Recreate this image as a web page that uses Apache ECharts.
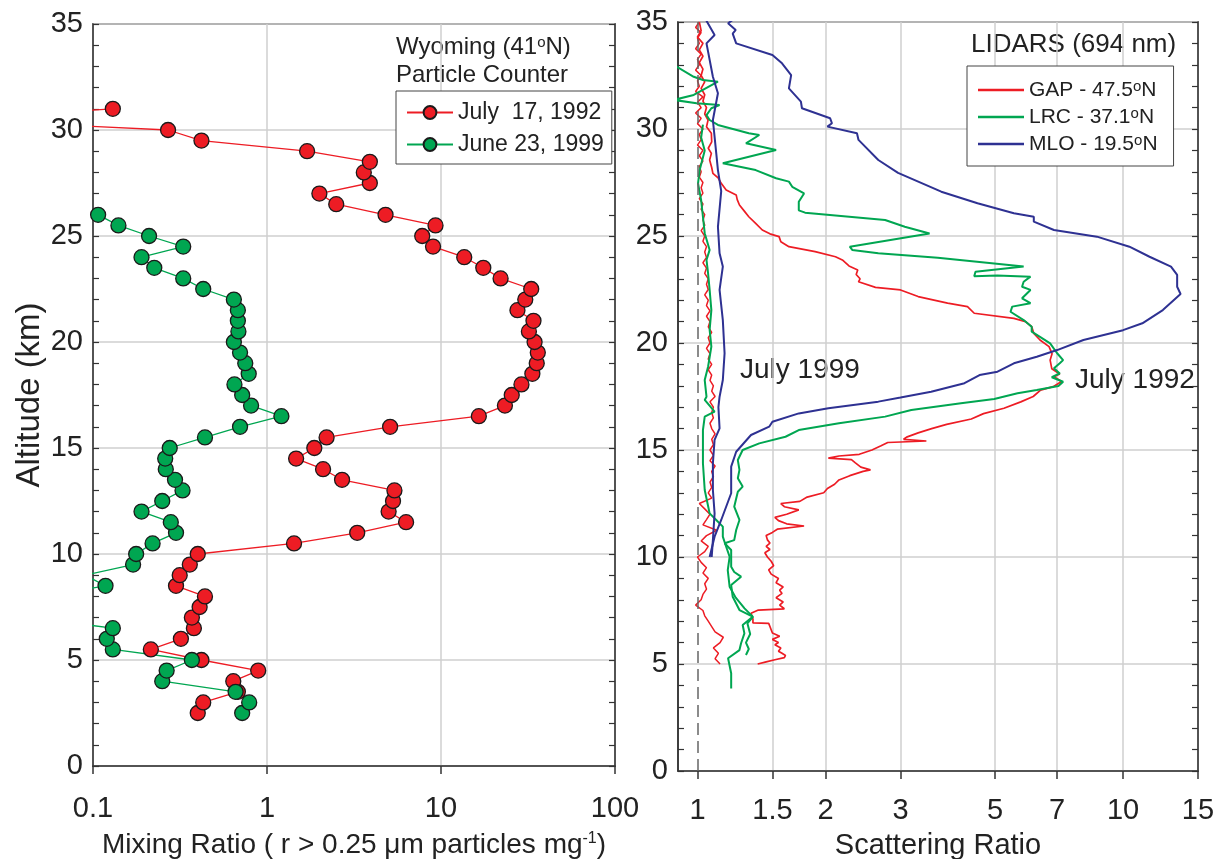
<!DOCTYPE html>
<html><head><meta charset="utf-8">
<script src="https://cdn.jsdelivr.net/npm/echarts@6/dist/echarts.min.js"></script>
<style>html,body{margin:0;padding:0;background:#fff}#c{width:1219px;height:859px}</style>
</head><body><div id="c"></div>
<script>
// ---------- Left panel: Wyoming particle counter ----------
const wyoAlt1992 = [2.5,3,3.5,4,4.5,5,5.5,6,6.5,7,7.5,8,8.5,9,9.5,10,10.5,11,11.5,12,12.5,13,13.5,14,14.5,15,15.5,16,16.5,17,17.5,18,18.5,19,19.5,20,20.5,21,21.5,22,22.5,23,23.5,24,24.5,25,25.5,26,26.5,27,27.5,28,28.5,29,29.5,30,30.5,31];
const wyo1992 = [0.40,0.43,0.68,0.64,0.89,0.42,0.215,0.32,0.38,0.37,0.41,0.44,0.30,0.315,0.36,0.40,1.43,3.3,6.3,5.0,5.3,5.4,2.7,2.1,1.47,1.87,2.2,5.1,16.5,23.3,25.5,29,33.5,35.5,36,34.5,32,34,27.5,30.5,33,22,17.5,13.6,9.0,7.8,9.3,4.8,2.5,2.0,3.9,3.6,3.9,1.7,0.42,0.27,0.015,0.13];
const wyoAlt1999 = [2.5,3,3.5,4,4.5,5,5.5,6,6.5,7,7.5,8,8.5,9,9.5,10,10.5,11,11.5,12,12.5,13,13.5,14,14.5,15,15.5,16,16.5,17,17.5,18,18.5,19,19.5,20,20.5,21,21.5,22,22.5,23,23.5,24,24.5,25,25.5,26];
const wyo1999 = [0.72,0.79,0.66,0.25,0.265,0.37,0.13,0.12,0.13,0.044,0.05,0.052,0.118,0.09,0.17,0.177,0.22,0.30,0.28,0.19,0.25,0.327,0.296,0.262,0.26,0.276,0.44,0.70,1.21,0.81,0.72,0.65,0.785,0.75,0.70,0.645,0.685,0.68,0.68,0.645,0.43,0.33,0.225,0.19,0.33,0.21,0.14,0.107];
const leftXTicks = [0.1, 1, 10, 100];

// ---------- Right panel: lidars, [scattering ratio, altitude km] ----------
const gap1992 = [[1.385,5.0],[1.45,5.1],[1.52,5.2],[1.60,5.3],[1.61,5.4],[1.58,5.5],[1.55,5.6],[1.57,5.75],[1.52,5.9],[1.55,6.0],[1.50,6.15],[1.56,6.3],[1.50,6.45],[1.49,6.6],[1.48,6.75],[1.47,6.9],[1.35,6.92],[1.35,7.1],[1.336,7.37],[1.39,7.52],[1.60,7.58],[1.56,7.75],[1.59,7.9],[1.53,8.1],[1.58,8.3],[1.56,8.45],[1.59,8.6],[1.53,8.8],[1.55,9.0],[1.49,9.2],[1.47,9.4],[1.51,9.6],[1.49,9.8],[1.46,10.0],[1.44,10.2],[1.48,10.35],[1.45,10.5],[1.48,10.65],[1.46,10.8],[1.45,11.0],[1.50,11.15],[1.54,11.3],[1.78,11.45],[1.62,11.55],[1.55,11.7],[1.52,11.85],[1.62,12.0],[1.73,12.2],[1.60,12.35],[1.57,12.5],[1.74,12.6],[1.81,12.8],[1.98,13.0],[2.02,13.2],[2.10,13.4],[2.15,13.6],[2.28,13.8],[2.45,14.0],[2.55,14.07],[2.42,14.2],[2.35,14.4],[2.30,14.55],[2.03,14.62],[2.15,14.72],[2.40,14.8],[2.57,15.0],[2.70,15.2],[2.80,15.35],[3.45,15.42],[3.05,15.5],[3.10,15.6],[3.30,15.8],[3.55,16.0],[3.85,16.2],[4.40,16.45],[4.70,16.7],[5.25,16.95],[5.75,17.25],[6.15,17.5],[6.40,17.8],[6.85,17.96],[7.17,18.2],[6.88,18.43],[7.10,18.55],[6.80,18.8],[6.74,19.2],[6.81,19.5],[6.70,19.83],[6.38,20.14],[6.17,20.45],[6.10,20.76],[5.90,21.0],[5.54,21.15],[4.47,21.39],[4.31,21.7],[3.87,21.86],[3.30,22.17],[3.00,22.48],[2.62,22.6],[2.39,22.86],[2.41,23.0],[2.36,23.2],[2.38,23.41],[2.27,23.6],[2.19,23.88],[2.11,24.03],[1.89,24.27],[1.64,24.5],[1.57,24.73],[1.555,24.97],[1.48,25.1],[1.42,25.28],[1.37,25.59],[1.32,25.9],[1.29,26.15],[1.255,26.45],[1.24,26.7],[1.233,26.92],[1.168,27.15],[1.137,27.46],[1.12,27.7],[1.087,27.93],[1.08,28.2],[1.068,28.55],[1.078,28.86],[1.06,29.1],[1.08,29.4],[1.078,29.8],[1.05,30.1],[1.059,30.42],[1.04,30.7],[1.05,31.0],[1.03,31.3],[1.04,31.6],[1.02,31.9],[1.04,32.2],[1.02,32.5],[1.03,32.8],[1.01,33.1],[1.03,33.4],[1.01,33.7],[1.03,34.0],[1.00,34.3],[1.02,34.6],[1.01,35.0]];
const gap1999 = [[1.13,5.0],[1.10,5.25],[1.12,5.5],[1.09,5.75],[1.13,6.0],[1.15,6.25],[1.10,6.5],[1.08,6.75],[1.06,7.0],[1.04,7.25],[1.03,7.5],[0.99,7.75],[1.02,8.0],[1.03,8.25],[1.05,8.5],[1.04,8.75],[1.06,9.0],[1.03,9.25],[1.05,9.5],[1.02,9.75],[1.00,10.0],[1.04,10.25],[1.06,10.5],[1.02,10.75],[1.05,11.0],[1.11,11.25],[1.03,11.5],[1.05,11.75],[1.07,12.0],[1.04,12.25],[1.01,12.5],[1.08,12.75],[1.06,13.0],[1.08,13.25],[1.07,13.5],[1.09,13.75],[1.08,14.0],[1.10,14.25],[1.07,14.5],[1.09,14.75],[1.07,15.0],[1.09,15.25],[1.08,15.5],[1.10,15.75],[1.08,16.0],[1.07,16.25],[1.09,16.5],[1.08,16.75],[1.09,17.0],[1.07,17.25],[1.10,17.5],[1.08,17.75],[1.09,18.0],[1.07,18.25],[1.08,18.5],[1.06,18.75],[1.08,19.0],[1.06,19.25],[1.07,19.5],[1.05,19.75],[1.07,20.0],[1.06,20.25],[1.08,20.5],[1.06,20.75],[1.07,21.0],[1.05,21.25],[1.07,21.5],[1.05,21.75],[1.06,22.0],[1.04,22.25],[1.06,22.5],[1.05,22.75],[1.06,23.0],[1.04,23.25],[1.05,23.5],[1.03,23.75],[1.05,24.0],[1.04,24.25],[1.05,24.5],[1.03,24.75],[1.04,25.0],[1.02,25.25],[1.04,25.5],[1.03,25.75],[1.04,26.0],[1.02,26.25],[1.03,26.5],[1.01,26.75],[1.03,27.0],[1.02,27.25],[1.03,27.5],[1.01,27.75],[1.02,28.0],[1.01,28.25],[1.03,28.5],[1.01,28.75],[1.03,29.0],[1.00,29.25],[1.02,29.5],[1.01,29.75],[1.03,30.0],[1.00,30.25],[1.02,30.5],[0.99,30.75],[1.02,31.0],[1.00,31.25],[1.03,31.5],[0.99,31.75],[1.01,32.0],[1.00,32.25],[1.02,32.5],[0.99,32.75],[1.01,33.0],[1.00,33.25],[1.02,33.5],[0.99,33.75],[1.01,34.0],[1.00,34.25],[1.02,34.5],[0.99,34.75],[1.01,35.0]];
const lrc1992 = [[1.2,3.86],[1.2,4.57],[1.18,5.27],[1.255,5.65],[1.266,5.97],[1.289,6.43],[1.277,6.82],[1.348,7.21],[1.255,7.52],[1.21,8.14],[1.2,8.69],[1.266,9.08],[1.22,9.3],[1.2,9.55],[1.2,10.33],[1.158,10.64],[1.22,10.79],[1.233,11.26],[1.255,11.73],[1.22,12.35],[1.244,13.05],[1.277,13.29],[1.244,13.68],[1.255,14.07],[1.244,14.53],[1.277,15.0],[1.397,15.31],[1.61,15.62],[1.73,15.93],[2.15,16.25],[2.76,16.56],[3.18,16.87],[4.16,17.18],[4.98,17.38],[5.65,17.65],[6.27,17.8],[7.05,17.99],[7.23,18.19],[6.8,18.4],[7.1,18.58],[6.88,18.82],[7.1,19.05],[7.23,19.2],[7.0,19.52],[6.74,19.98],[6.38,20.29],[6.1,20.53],[6.1,20.76],[5.84,21.07],[5.44,21.46],[5.49,21.7],[6.06,21.86],[5.79,22.09],[6.06,22.48],[5.79,22.63],[5.84,22.86],[6.06,23.1],[5.06,23.15],[4.47,23.12],[4.5,23.33],[5.84,23.57],[3.67,23.98],[2.66,24.19],[2.31,24.35],[2.28,24.5],[3.51,25.12],[3.07,25.43],[2.76,25.75],[1.79,26.09],[1.73,26.2],[1.73,26.6],[1.78,26.99],[1.67,27.3],[1.64,27.54],[1.53,27.7],[1.37,28.08],[1.147,28.4],[1.53,29.02],[1.3,29.33],[1.397,29.72],[1.32,29.8],[1.117,30.19],[1.068,30.42],[1.05,30.65],[1.078,30.97],[1.127,31.12],[0.995,31.2],[0.88,31.36],[0.98,31.59],[1.117,32.21],[1.03,32.29],[0.98,32.44],[0.88,32.99]];
const lrc1999 = [[1.30,5.42],[1.32,5.7],[1.30,6.0],[1.33,6.4],[1.31,6.9],[1.35,7.2],[1.29,7.6],[1.23,8.1],[1.19,8.61],[1.178,9.39],[1.19,10.01],[1.168,10.48],[1.147,10.95],[1.147,11.42],[1.107,11.73],[1.068,12.04],[1.04,13.13],[1.03,14.38],[1.03,15.93],[1.04,16.56],[1.097,16.79],[1.04,17.34],[1.05,17.49],[1.04,18.27],[1.059,18.89],[1.078,19.83],[1.068,20.61],[1.078,21.54],[1.068,22.48],[1.059,23.26],[1.05,23.88],[1.068,24.35],[1.04,25.13],[1.03,25.9],[1.02,26.68],[1.003,27.46],[1.012,28.08],[1.04,29.0],[1.02,29.6],[1.03,30.2]];
const mlo1992 = [[1.068,10.0],[1.097,10.95],[1.137,11.73],[1.2,12.98],[1.2,14.22],[1.233,14.92],[1.336,15.7],[1.474,16.09],[1.5,16.32],[1.73,16.71],[2.03,16.95],[2.66,17.26],[3.0,17.45],[3.54,17.72],[4.24,18.12],[4.6,18.5],[5.07,18.66],[5.54,19.05],[6.27,19.36],[7.0,19.67],[8.07,20.14],[10.0,20.6],[11.1,20.92],[12.4,21.54],[13.65,22.29],[13.4,22.63],[13.4,23.18],[12.96,23.57],[11.54,24.03],[10.35,24.5],[8.68,24.97],[6.88,25.28],[6.17,25.67],[6.17,25.9],[5.54,26.06],[4.55,26.53],[3.74,27.07],[2.96,27.95],[2.66,28.55],[2.39,29.49],[2.37,29.8],[2.02,30.11],[2.07,30.27],[2.05,30.5],[1.76,30.97],[1.75,31.28],[1.64,31.9],[1.66,32.52],[1.58,33.07],[1.5,33.46],[1.233,34.0],[1.21,34.46],[1.23,34.63],[1.18,34.94],[1.23,35.2]];
const mlo1999 = [[1.08,10.0],[1.087,10.79],[1.097,12.04],[1.087,13.13],[1.087,14.38],[1.097,15.47],[1.127,16.01],[1.12,17.0],[1.127,17.49],[1.147,18.27],[1.158,19.52],[1.147,21.07],[1.127,22.48],[1.147,23.57],[1.127,24.19],[1.117,25.43],[1.137,27.1],[1.117,28.08],[1.107,28.86],[1.087,30.42],[1.117,31.67],[1.087,32.44],[1.05,34.0],[1.097,34.39],[1.04,35.2]];
const rightXTicks = [1, 1.5, 2, 3, 5, 7, 10, 15];

const FONT = '"Liberation Sans", Arial, Helvetica, sans-serif';
const RED = '#ed1c24', GREEN = '#00a651', BLUE = '#2e3192';
const AX = '#333', GRID = '#cfcfcf';

const zip = (alts, vals) => vals.map((v, i) => [v, alts[i]]);

function yAxisCfg(gridIndex, pos, showLabel, nameOpt) {
  const c = {
    type: 'value', gridIndex, position: pos, min: 0, max: 35, interval: 5,
    axisLine: {show: true, lineStyle: {color: AX, width: 1.5}},
    axisTick: {show: true, inside: true, length: 6, lineStyle: {color: AX, width: 1.2}},
    minorTick: {show: true, splitNumber: 5, length: 6, lineStyle: {color: AX, width: 1.2}},
    axisLabel: {show: showLabel, fontSize: 29, color: '#222', fontFamily: FONT, margin: 10},
    splitLine: {show: showLabel, lineStyle: {color: GRID, width: 1.5}}
  };
  return Object.assign(c, nameOpt || {});
}

const lidarLine = (name, data, color, w) => ({
  type: 'line', name, data, xAxisIndex: 1, yAxisIndex: 2, symbol: 'none',
  lineStyle: {color, width: w}, itemStyle: {color}, clip: true, silent: true, animation: false
});

const option = {
  animation: false,
  grid: [
    {left: 93, top: 24, width: 522, height: 742, show: true, borderColor: AX, borderWidth: 1.5,
     containLabel: false, outerBoundsMode: 'none'},
    {left: 678, top: 22, width: 520, height: 749, show: true, borderColor: AX, borderWidth: 1.5,
     containLabel: false, outerBoundsMode: 'none'}
  ],
  xAxis: [
    {type: 'log', gridIndex: 0, min: 0.1, max: 100, logBase: 10,
     axisLine: {show: true, lineStyle: {color: AX, width: 1.5}},
     axisTick: {show: true, length: 8, lineStyle: {color: AX, width: 1.5}},
     axisLabel: {fontSize: 29, color: '#222', fontFamily: FONT, margin: 28, customValues: leftXTicks,
       formatter: v => String(Math.round(v * 10) / 10)},
     splitLine: {show: true, lineStyle: {color: GRID, width: 1.5}},
     name: 'Mixing Ratio ( r > 0.25 {g|μ}m particles mg{s|-1})', nameLocation: 'middle', nameGap: 65,
     nameTextStyle: {fontSize: 28, color: '#222', fontFamily: FONT,
       rich: {g: {fontSize: 28, fontFamily: FONT, color: '#222'}, s: {fontSize: 16, fontFamily: FONT, color: '#222', verticalAlign: 'top', lineHeight: 14}}}},
    {type: 'log', gridIndex: 1, min: 0.9, max: 15, logBase: 10,
     axisLine: {show: true, lineStyle: {color: AX, width: 1.5}},
     axisTick: {show: true, length: 8, customValues: rightXTicks, lineStyle: {color: AX, width: 1.5}},
     axisLabel: {fontSize: 29, color: '#222', fontFamily: FONT, margin: 25, customValues: rightXTicks,
       formatter: v => String(Math.round(v * 10) / 10)},
     splitLine: {show: true, lineStyle: {color: ['rgba(0,0,0,0)', GRID, GRID, GRID, GRID, GRID, GRID, GRID], width: 1.5}},
     name: 'Scattering Ratio', nameLocation: 'middle', nameGap: 60,
     nameTextStyle: {fontSize: 29, color: '#222', fontFamily: FONT}}
  ],
  yAxis: [
    yAxisCfg(0, 'left', true, {name: 'Altitude (km)', nameLocation: 'middle', nameGap: 47,
      nameTextStyle: {fontSize: 33, color: '#222', fontFamily: FONT}}),
    yAxisCfg(0, 'right', false),
    yAxisCfg(1, 'left', true),
    yAxisCfg(1, 'right', false)
  ],
  legend: [
    {orient: 'vertical', left: 396, top: 91, padding: [10, 8, 8, 10], itemGap: 9,
     itemWidth: 46, itemHeight: 16, borderColor: '#444', borderWidth: 1, backgroundColor: '#fff',
     textStyle: {fontSize: 23, color: '#222', fontFamily: FONT},
     data: ['July  17, 1992', 'June 23, 1999']},
    {orient: 'vertical', left: 967, top: 66, padding: [13, 16, 11, 11], itemGap: 5,
     icon: 'rect', itemWidth: 46, itemHeight: 2.5, borderColor: '#444', borderWidth: 1, backgroundColor: '#fff',
     textStyle: {fontSize: 21, color: '#222', fontFamily: FONT, lineHeight: 22,
       rich: {d: {fontSize: 15, color: '#222', fontFamily: FONT, verticalAlign: 'top', lineHeight: 12}}},
     formatter: n => n.replace('°', '{d|o}'),
     data: ['GAP - 47.5°N', 'LRC - 37.1°N', 'MLO - 19.5°N']}
  ],
  graphic: [
    {type: 'text', left: 396, top: 35, style: {text: 'Wyoming (41{s|o}N)', font: '24px ' + FONT, fill: '#222',
      rich: {s: {fontSize: 15, fontFamily: FONT, fill: '#222', verticalAlign: 'top', lineHeight: 12}}}},
    {type: 'text', left: 396, top: 63, style: {text: 'Particle Counter', font: '24px ' + FONT, fill: '#222'}},
    {type: 'text', left: 971, top: 32, style: {text: 'LIDARS (694 nm)', font: '26px ' + FONT, fill: '#222'}},
    {type: 'text', left: 740, top: 356, style: {text: 'July 1999', font: '28px ' + FONT, fill: '#222'}},
    {type: 'text', left: 1075, top: 366, style: {text: 'July 1992', font: '28px ' + FONT, fill: '#222'}}
  ],
  series: [
    {type: 'line', name: 'July  17, 1992', data: zip(wyoAlt1992, wyo1992), xAxisIndex: 0, yAxisIndex: 0,
     symbol: 'circle', symbolSize: 15, clip: true,
     lineStyle: {color: RED, width: 1.3}, itemStyle: {color: RED, borderColor: '#1a1a1a', borderWidth: 1.3}},
    {type: 'line', name: 'June 23, 1999', data: zip(wyoAlt1999, wyo1999), xAxisIndex: 0, yAxisIndex: 0,
     symbol: 'circle', symbolSize: 15, clip: true,
     lineStyle: {color: GREEN, width: 1.3}, itemStyle: {color: GREEN, borderColor: '#1a1a1a', borderWidth: 1.3}},
    Object.assign(lidarLine('GAP - 47.5°N', gap1992, RED, 1.7), {
      markLine: {silent: true, symbol: 'none', label: {show: false},
        lineStyle: {color: '#666', type: [12, 6], width: 1.5}, data: [{xAxis: 1}]}}),
    lidarLine('GAP - 47.5°N', gap1999, RED, 1.5),
    lidarLine('LRC - 37.1°N', lrc1992, GREEN, 2),
    lidarLine('LRC - 37.1°N', lrc1999, GREEN, 2),
    lidarLine('MLO - 19.5°N', mlo1992, BLUE, 2),
    lidarLine('MLO - 19.5°N', mlo1999, BLUE, 2)
  ]
};
const chart = echarts.init(document.getElementById('c'), null, {renderer: 'canvas'});
chart.setOption(option);
</script></body></html>
